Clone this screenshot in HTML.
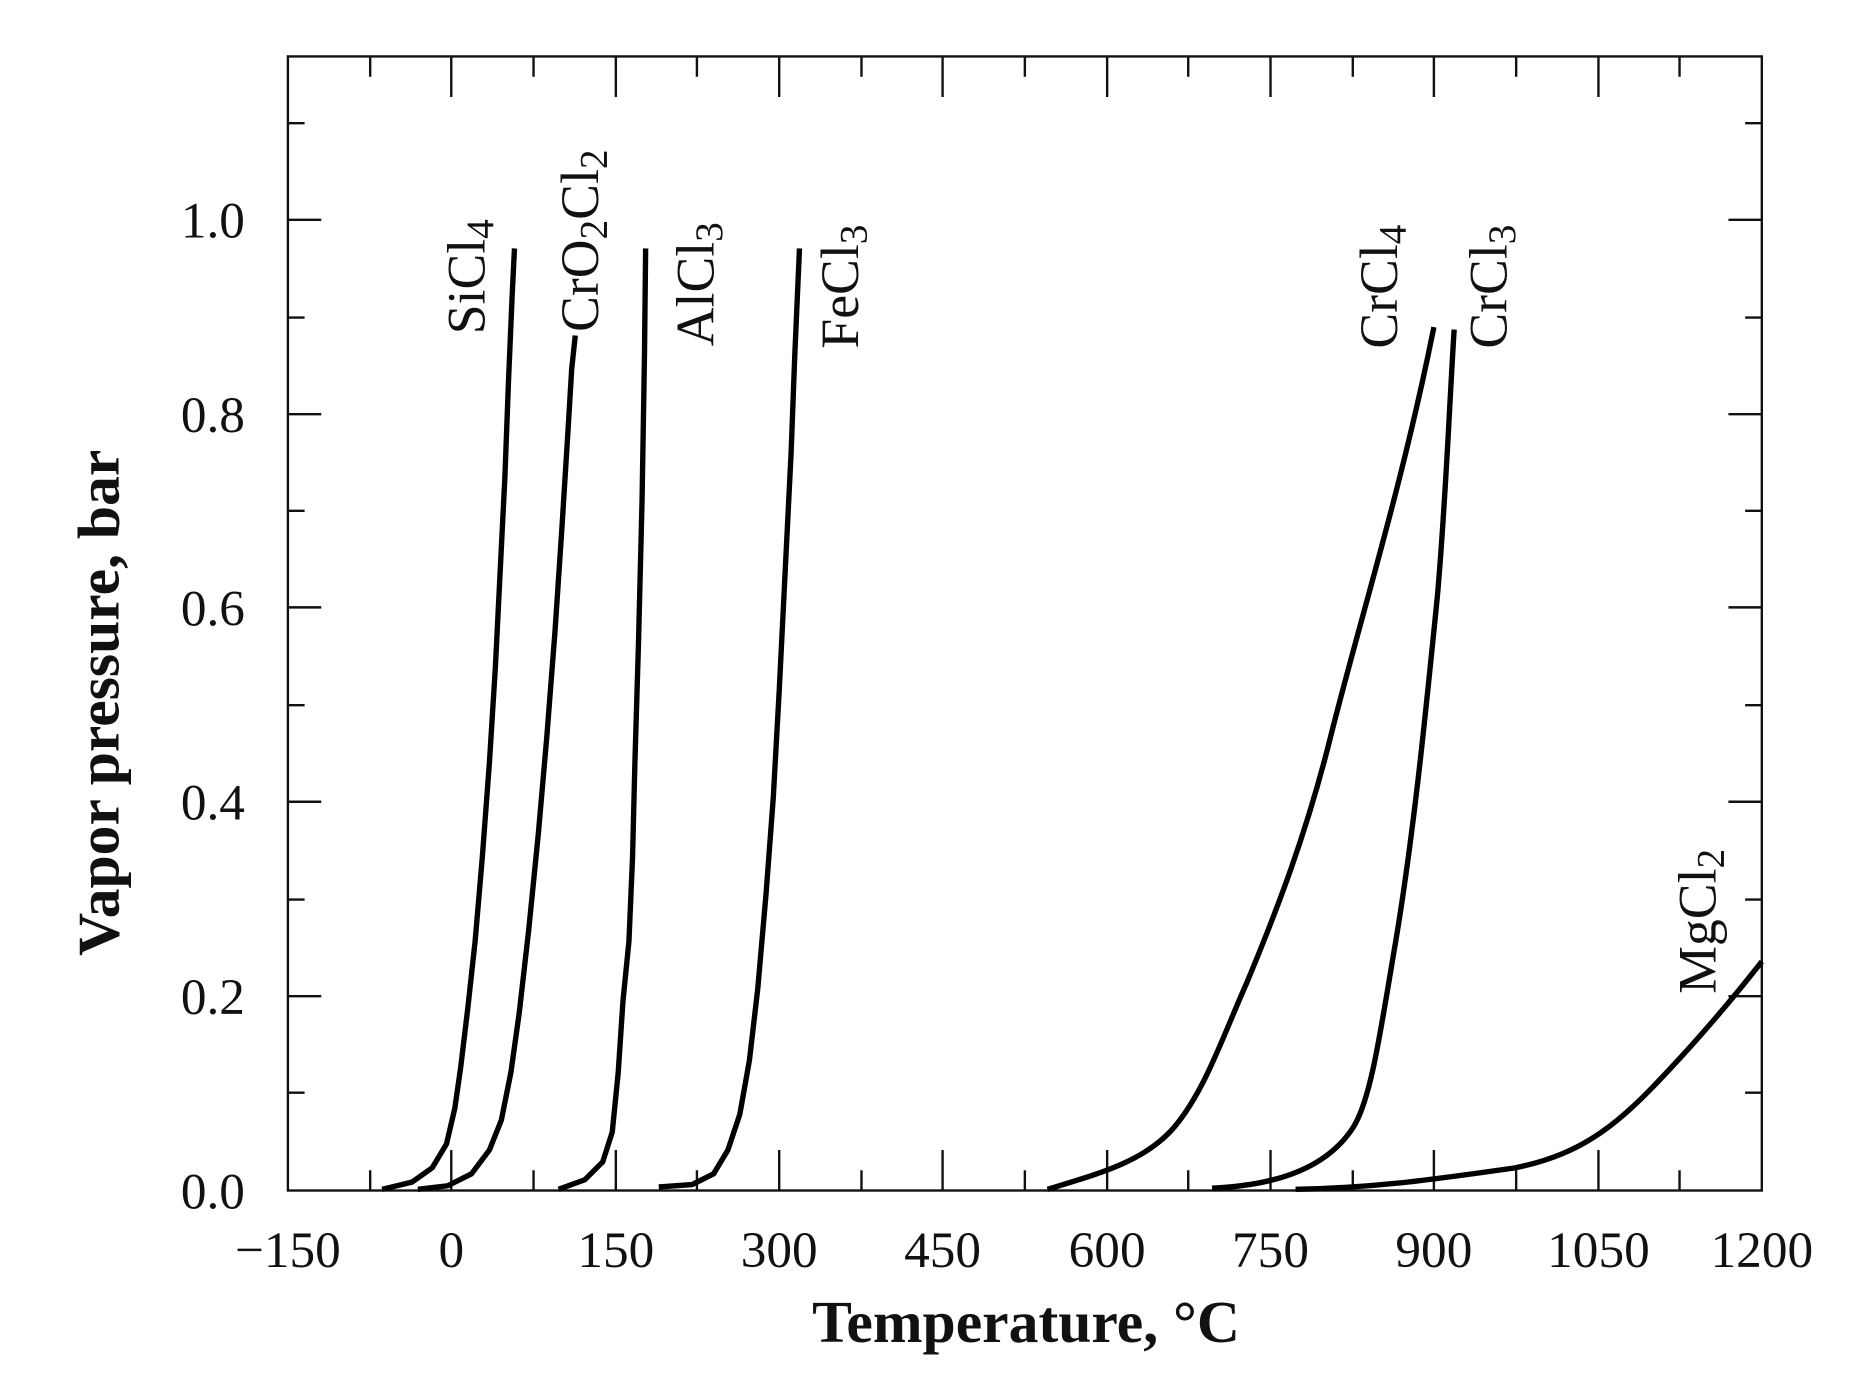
<!DOCTYPE html>
<html><head><meta charset="utf-8"><style>
html,body{margin:0;padding:0;background:#fff;}
svg{display:block;}
text{font-family:"Liberation Serif","DejaVu Serif",serif;fill:#111;}
</style></head><body>
<svg width="1870" height="1396" viewBox="0 0 1870 1396" xmlns="http://www.w3.org/2000/svg">
<g transform="translate(0.5,-0.8) scale(1.1925)">
<rect x="241" y="48" width="1236" height="951" fill="none" stroke="#111" stroke-width="2"/>
<g stroke="#111" stroke-width="2">
<path d="M378,999v-34M516,999v-34M653,999v-34M790,999v-34M928,999v-34M1065,999v-34M1202,999v-34M1340,999v-34
M310,999v-17M447,999v-17M584,999v-17M722,999v-17M859,999v-17M996,999v-17M1134,999v-17M1271,999v-17M1408,999v-17
M378,48v34M516,48v34M653,48v34M790,48v34M928,48v34M1065,48v34M1202,48v34M1340,48v34
M310,48v17M447,48v17M584,48v17M722,48v17M859,48v17M996,48v17M1134,48v17M1271,48v17M1408,48v17"/>
<path d="M241,836h28M241,673h28M241,510h28M241,348h28M241,185h28
M241,917h14M241,755h14M241,592h14M241,429h14M241,267h14M241,104h14
M1477,836h-28M1477,673h-28M1477,510h-28M1477,348h-28M1477,185h-28
M1477,917h-14M1477,755h-14M1477,592h-14M1477,429h-14M1477,267h-14M1477,104h-14"/>
</g>
<g font-size="43" text-anchor="end">
<text x="205" y="1014">0.0</text>
<text x="205" y="851">0.2</text>
<text x="205" y="688">0.4</text>
<text x="205" y="525">0.6</text>
<text x="205" y="363">0.8</text>
<text x="205" y="200">1.0</text>
</g>
<g font-size="43" text-anchor="middle">
<text x="241" y="1063">−150</text>
<text x="378" y="1063">0</text>
<text x="516" y="1063">150</text>
<text x="653" y="1063">300</text>
<text x="790" y="1063">450</text>
<text x="928" y="1063">600</text>
<text x="1065" y="1063">750</text>
<text x="1202" y="1063">900</text>
<text x="1340" y="1063">1050</text>
<text x="1477" y="1063">1200</text>
</g>
<text x="860" y="1126" font-size="50" font-weight="bold" text-anchor="middle">Temperature, °C</text>
<text transform="translate(99,590) rotate(-90)" font-size="50" font-weight="bold" text-anchor="middle">Vapor pressure, bar</text>
<g fill="none" stroke="#000" stroke-width="4.5" stroke-linejoin="round" stroke-linecap="butt">
<polyline points="320,998 345,992 362,980 374,960 381,930 386,895 392,845 398,790 404,720 410,640 415,560 419,480 423,400 426,320 429,250 431,209"/>
<polyline points="350,998 375,995 395,985 410,965 420,940 428,900 435,850 443,780 451,700 458,620 465,530 471,440 476,360 479,310 482,282"/>
<polyline points="468,998 490,990 505,975 513,950 518,900 522,840 527,790 530,720 532,640 535,540 538,420 540,300 541,209"/>
<polyline points="552,996 580,994 598,985 610,965 620,935 628,890 635,830 642,750 648,670 653,580 658,480 663,380 666,300 670,209"/>
<path d="M878,998 C920,985 960,975 985,945 C1010,915 1025,870 1045,825 C1070,765 1095,700 1115,620 C1140,520 1175,410 1202,275"/>
<path d="M1016,997 C1060,995 1110,985 1135,945 C1150,920 1158,860 1170,790 C1185,700 1195,600 1205,500 C1212,420 1215,340 1219,277"/>
<path d="M1086,998 C1150,997 1200,990 1270,980 C1330,968 1360,940 1400,897 C1430,865 1455,835 1477,807"/>
</g>
<g font-size="45">
<text transform="translate(406,281) rotate(-90)">SiCl<tspan font-size="33" dy="7">4</tspan></text>
<text transform="translate(501,279) rotate(-90)">CrO<tspan font-size="33" dy="7">2</tspan><tspan dy="-7">Cl</tspan><tspan font-size="33" dy="7">2</tspan></text>
<text transform="translate(598,291) rotate(-90)">AlCl<tspan font-size="33" dy="7">3</tspan></text>
<text transform="translate(719,293) rotate(-90)">FeCl<tspan font-size="33" dy="7">3</tspan></text>
<text transform="translate(1171,293) rotate(-90)">CrCl<tspan font-size="33" dy="7">4</tspan></text>
<text transform="translate(1263,293) rotate(-90)">CrCl<tspan font-size="33" dy="7">3</tspan></text>
<text transform="translate(1438,834) rotate(-90)">MgCl<tspan font-size="33" dy="7">2</tspan></text>
</g>
</g>
</svg>
</body></html>
